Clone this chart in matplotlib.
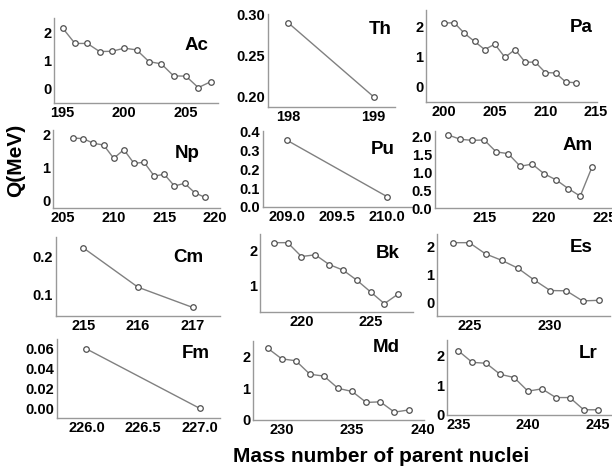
import matplotlib.pyplot as plt
from matplotlib.ticker import FormatStrFormatter

plt.rcParams['font.family'] = ['Liberation Sans', 'DejaVu Sans']
plt.rcParams['font.weight'] = 'bold'

# Q values (MeV) against mass number of the parent nucleus
ac_a = [195, 196, 197, 198, 199, 200, 201, 202, 203, 204, 205, 206, 207]
ac_q = [2.15, 1.6, 1.6, 1.31, 1.32, 1.43, 1.37, 0.95, 0.87, 0.44, 0.43, 0.02, 0.23]

th_a = [198, 199]
th_q = [0.29, 0.20]

pa_a = [200, 201, 202, 203, 204, 205, 206, 207, 208, 209, 210, 211, 212, 213]
pa_q = [2.13, 2.13, 1.78, 1.51, 1.24, 1.42, 0.98, 1.24, 0.82, 0.82, 0.47, 0.46, 0.16, 0.13]

np_a = [206, 207, 208, 209, 210, 211, 212, 213, 214, 215, 216, 217, 218, 219]
np_q = [1.88, 1.86, 1.72, 1.67, 1.27, 1.53, 1.12, 1.15, 0.74, 0.79, 0.44, 0.52, 0.24, 0.10]

pu_a = [209, 210]
pu_q = [0.353, 0.055]

am_a = [212, 213, 214, 215, 216, 217, 218, 219, 220, 221, 222, 223, 224]
am_q = [2.03, 1.91, 1.88, 1.89, 1.56, 1.51, 1.16, 1.22, 0.95, 0.78, 0.54, 0.33, 1.15]

cm_a = [215, 216, 217]
cm_q = [0.221, 0.12, 0.068]

bk_a = [218, 219, 220, 221, 222, 223, 224, 225, 226, 227]
bk_q = [2.23, 2.23, 1.83, 1.88, 1.6, 1.44, 1.15, 0.81, 0.47, 0.75]

es_a = [224, 225, 226, 227, 228, 229, 230, 231, 232, 233]
es_q = [2.14, 2.14, 1.74, 1.51, 1.23, 0.81, 0.43, 0.42, 0.06, 0.08]

fm_a = [226, 227]
fm_q = [0.06, 0.0]

md_a = [229, 230, 231, 232, 233, 234, 235, 236, 237, 238, 239]
md_q = [2.27, 1.93, 1.87, 1.44, 1.38, 0.99, 0.89, 0.54, 0.56, 0.23, 0.30]

lr_a = [235, 236, 237, 238, 239, 240, 241, 242, 243, 244, 245]
lr_q = [2.18, 1.78, 1.75, 1.37, 1.26, 0.79, 0.87, 0.57, 0.57, 0.15, 0.15]

W, H = 612, 468
fig = plt.figure(figsize=(W / 100, H / 100), dpi=100)


def box(l, t, r, b):
    # pixel box -> figure fraction
    return [l / W, 1 - b / H, (r - l) / W, (b - t) / H]


# name, x, y, pixel box, xlim, ylim, xticks, yticks, xfmt, yfmt, label pos (right edge x, center y)
panels = [
    ('Ac', ac_a, ac_q, (54, 18, 218, 103), (194.3, 207.6), (-0.53, 2.51),
     [195, 200, 205], [0, 1, 2], '%d', '%d', (208, 45)),
    ('Th', th_a, th_q, (268, 14, 395, 107), (197.76, 199.25), (0.1876, 0.301),
     [198, 199], [0.20, 0.25, 0.30], '%d', '%.2f', (392, 30)),
    ('Pa', pa_a, pa_q, (426, 10, 597, 102), (198.2, 215.1), (-0.51, 2.56),
     [200, 205, 210, 215], [0, 1, 2], '%d', '%d', (593, 27)),
    ('Np', np_a, np_q, (53, 130, 220, 208), (204.0, 220.5), (-0.22, 2.12),
     [205, 210, 215, 220], [0, 1, 2], '%d', '%d', (200, 153)),
    ('Pu', pu_a, pu_q, (263, 131, 413, 207), (208.76, 210.26), (0.0, 0.402),
     [209.0, 209.5, 210.0], [0.0, 0.1, 0.2, 0.3, 0.4], '%.1f', '%.1f', (395, 150)),
    ('Am', am_a, am_q, (435, 131, 612, 208), (210.9, 225.65), (0.0, 2.14),
     [215, 220, 225], [0.0, 0.5, 1.0, 1.5, 2.0], '%d', '%.1f', (593, 145)),
    ('Cm', cm_a, cm_q, (56, 237, 220, 316), (214.5, 217.5), (0.046, 0.249),
     [215, 216, 217], [0.1, 0.2], '%d', '%.1f', (203, 257)),
    ('Bk', bk_a, bk_q, (260, 234, 413, 312), (217.0, 228.07), (0.23, 2.48),
     [220, 225], [1, 2], '%d', '%d', (400, 253)),
    ('Es', es_a, es_q, (437, 234, 610, 316), (223.0, 233.7), (-0.48, 2.45),
     [225, 230], [0, 1, 2], '%d', '%d', (593, 247)),
    ('Fm', fm_a, fm_q, (57, 339, 220, 418), (225.74, 227.18), (-0.0098, 0.070),
     [226.0, 226.5, 227.0], [0.00, 0.02, 0.04, 0.06], '%.1f', '%.2f', (210, 353)),
    ('Md', md_a, md_q, (253, 341, 424, 420), (227.96, 240.1), (-0.02, 2.50),
     [230, 235, 240], [0, 1, 2], '%d', '%d', (400, 347)),
    ('Lr', lr_a, lr_q, (447, 340, 612, 415), (234.19, 246.03), (-0.03, 2.55),
     [235, 240, 245], [0, 1, 2], '%d', '%d', (598, 353)),
]

for name, x, y, px, xl, yl, xt, yt, xf, yf, lab in panels:
    ax = fig.add_axes(box(*px))
    ax.plot(x, y, color='#808080', lw=1.0, marker='o', ms=4,
            mfc='white', mec='#505050', mew=0.9, clip_on=False)
    ax.set_xlim(*xl)
    ax.set_ylim(*yl)
    ax.set_xticks(xt)
    ax.set_yticks(yt)
    ax.xaxis.set_major_formatter(FormatStrFormatter(xf))
    ax.yaxis.set_major_formatter(FormatStrFormatter(yf))
    for s in ['top', 'right']:
        ax.spines[s].set_visible(False)
    for s in ['left', 'bottom']:
        ax.spines[s].set_color('#999999')
        ax.spines[s].set_linewidth(1.0)
    ax.tick_params(length=0, pad=2, labelsize=10.5)
    for t in ax.get_xticklabels() + ax.get_yticklabels():
        t.set_fontweight('bold')
    ax.patch.set_alpha(0)
    fig.text(lab[0] / W, 1 - lab[1] / H, name, ha='right', va='center',
             fontsize=13.5, fontweight='bold')

fig.text(381 / W, 1 - 457 / H, 'Mass number of parent nuclei',
         ha='center', va='center', fontsize=15, fontweight='bold')
fig.text(16 / W, 1 - 160 / H, 'Q(MeV)', ha='center', va='center',
         rotation=90, fontsize=15, fontweight='bold')

fig.savefig('out.png', dpi=100)
